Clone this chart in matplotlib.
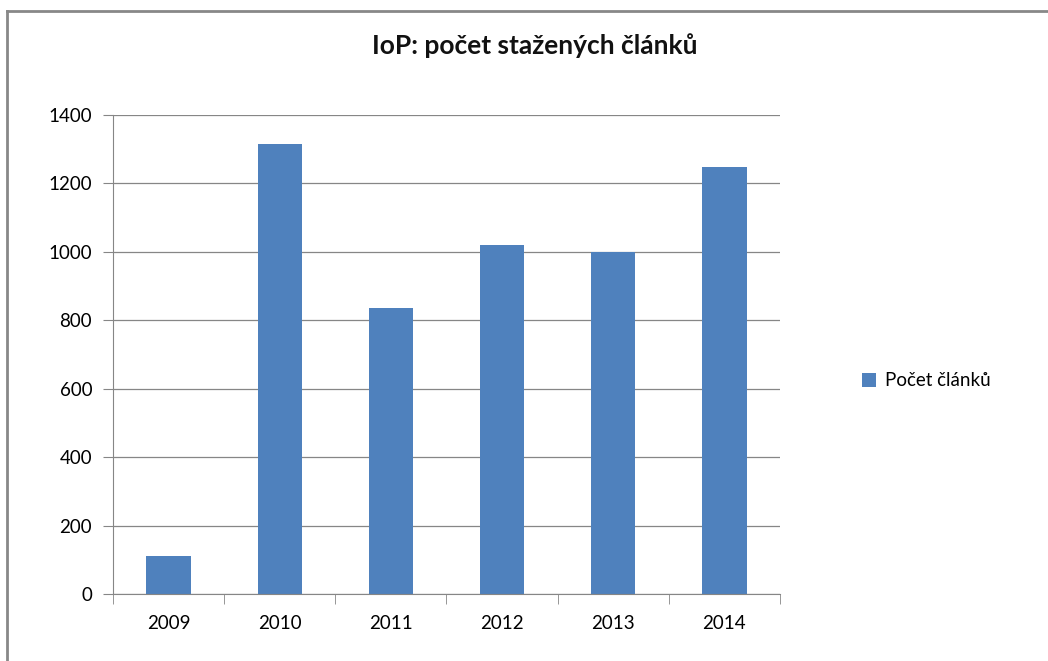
import matplotlib
matplotlib.use("Agg")
import matplotlib.pyplot as plt
from matplotlib.lines import Line2D
from matplotlib.patches import Rectangle

years = ["2009", "2010", "2011", "2012", "2013", "2014"]
counts = [111, 1316, 836, 1020, 1000, 1248]
series_name = "Počet článků"
title = "IoP: počet stažených článků"

BAR = "#4f81bd"
GRID = "#868686"

plt.rcParams["font.family"] = ["Lato", "DejaVu Sans"]

fig = plt.figure(figsize=(10.48, 6.61), dpi=100)
ax = fig.add_axes([113 / 1048, 67 / 661, (780 - 113) / 1048, (594 - 115) / 661])

x = range(len(years))
ax.bar(x, counts, width=0.4, color=BAR, zorder=3, label=series_name)

ax.set_ylim(0, 1400)
ax.set_yticks(range(0, 1401, 200))
ax.set_xlim(-0.5, len(years) - 0.5)
ax.set_xticks(list(x))
ax.set_xticklabels(years)
ax.set_xticks([i - 0.5 for i in range(len(years) + 1)], minor=True)
ax.tick_params(axis="x", which="major", length=0, pad=15, labelsize=13.5)
ax.tick_params(axis="x", which="minor", length=7, color=GRID, direction="out")
ax.tick_params(axis="y", length=7, color=GRID, labelsize=13.5, pad=8)
ax.grid(axis="y", color=GRID, linewidth=0.9, zorder=0)
for s in ["top", "right"]:
    ax.spines[s].set_visible(False)
for s in ["left", "bottom"]:
    ax.spines[s].set_color(GRID)
    ax.spines[s].set_zorder(4)

fig.text(535 / 1048, 1 - 46 / 661, title, ha="center", va="center",
         fontsize=19, fontweight="bold", color="#111111")

leg = [Rectangle((0, 0), 1, 1, facecolor=BAR, edgecolor="none", label=series_name)]
fig.legend(handles=leg, loc="center left", bbox_to_anchor=(845 / 1048, 1 - 381 / 661),
           frameon=False, fontsize=13.5, handlelength=0.75, handleheight=0.75,
           handletextpad=0.5)

# outer chart frame (left and top visible)
fig.add_artist(Line2D([7 / 1048, 7 / 1048], [0, 1 - 11 / 661], color="#888888", lw=2,
                      transform=fig.transFigure))
fig.add_artist(Line2D([7 / 1048, 1], [1 - 11 / 661, 1 - 11 / 661], color="#888888", lw=2,
                      transform=fig.transFigure))

fig.savefig("out.png", dpi=100)
